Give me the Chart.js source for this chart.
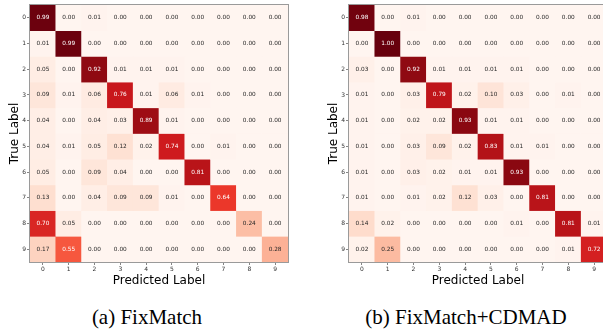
<!DOCTYPE html>
<html>
<head>
<meta charset="utf-8">
<script src="https://cdn.jsdelivr.net/npm/chart.js@4/dist/chart.umd.min.js"></script>
<style>
  html, body { margin: 0; padding: 0; background: #fff; }
  #wrap { position: relative; width: 603px; height: 331px; overflow: hidden; background: #fff; }
  .box { position: absolute; top: 0; width: 300px; height: 300px; }
  .cap { position: absolute; top: 307px; font-family: 'Liberation Serif', 'Times New Roman', serif; font-size: 21px; line-height: 21px; text-align: center; color: #000; white-space: nowrap; }
</style>
</head>
<body>
<div id="wrap">
  <div class="box" style="left:0px"><canvas id="c1" width="300" height="300"></canvas></div>
  <div class="box" style="left:319px"><canvas id="c2" width="300" height="300"></canvas></div>
  <div class="cap" style="left:0px;width:294px">(a) FixMatch</div>
  <div class="cap" style="left:320px;width:292px">(b) FixMatch+CDMAD</div>
</div>
<script>
const classLabels = ['0','1','2','3','4','5','6','7','8','9'];
const xTitle = 'Predicted Label';
const yTitle = 'True Label';

const fixmatch = [
  [0.99, 0.00, 0.01, 0.00, 0.00, 0.00, 0.00, 0.00, 0.00, 0.00],
  [0.01, 0.99, 0.00, 0.00, 0.00, 0.00, 0.00, 0.00, 0.00, 0.00],
  [0.05, 0.00, 0.92, 0.01, 0.01, 0.01, 0.00, 0.00, 0.00, 0.00],
  [0.09, 0.01, 0.06, 0.76, 0.01, 0.06, 0.01, 0.00, 0.00, 0.00],
  [0.04, 0.00, 0.04, 0.03, 0.89, 0.01, 0.00, 0.00, 0.00, 0.00],
  [0.04, 0.01, 0.05, 0.12, 0.02, 0.74, 0.00, 0.01, 0.00, 0.00],
  [0.05, 0.00, 0.09, 0.04, 0.00, 0.00, 0.81, 0.00, 0.00, 0.00],
  [0.13, 0.00, 0.04, 0.09, 0.09, 0.01, 0.00, 0.64, 0.00, 0.00],
  [0.70, 0.05, 0.00, 0.00, 0.00, 0.00, 0.00, 0.00, 0.24, 0.00],
  [0.17, 0.55, 0.00, 0.00, 0.00, 0.00, 0.00, 0.00, 0.00, 0.28]
];

const fixmatchCdmad = [
  [0.98, 0.00, 0.01, 0.00, 0.00, 0.00, 0.00, 0.00, 0.00, 0.00],
  [0.00, 1.00, 0.00, 0.00, 0.00, 0.00, 0.00, 0.00, 0.00, 0.00],
  [0.03, 0.00, 0.92, 0.01, 0.01, 0.01, 0.01, 0.00, 0.00, 0.00],
  [0.01, 0.00, 0.03, 0.79, 0.02, 0.10, 0.03, 0.00, 0.01, 0.00],
  [0.01, 0.00, 0.02, 0.02, 0.93, 0.01, 0.01, 0.00, 0.00, 0.00],
  [0.01, 0.00, 0.03, 0.09, 0.02, 0.83, 0.01, 0.01, 0.00, 0.00],
  [0.01, 0.00, 0.03, 0.02, 0.01, 0.01, 0.93, 0.00, 0.00, 0.00],
  [0.01, 0.00, 0.01, 0.02, 0.12, 0.03, 0.00, 0.81, 0.00, 0.00],
  [0.14, 0.02, 0.00, 0.00, 0.00, 0.00, 0.01, 0.00, 0.81, 0.01],
  [0.02, 0.25, 0.00, 0.00, 0.00, 0.00, 0.00, 0.00, 0.01, 0.72]
];

// matplotlib "Reds" colormap stops
const redsStops = ['#fff5f0','#fee0d2','#fcbba1','#fc9272','#fb6a4a','#ef3b2c','#cb181d','#a50f15','#67000d'];
function hexToRgb(h){ return [parseInt(h.slice(1,3),16), parseInt(h.slice(3,5),16), parseInt(h.slice(5,7),16)]; }
function reds(v){
  v = Math.max(0, Math.min(1, v));
  const p = v * (redsStops.length - 1);
  const i = Math.min(Math.floor(p), redsStops.length - 2);
  const t = p - i;
  const a = hexToRgb(redsStops[i]), b = hexToRgb(redsStops[i+1]);
  const c = a.map((x, k) => Math.round(x + (b[k] - x) * t));
  return 'rgb(' + c.join(',') + ')';
}

const annotatePlugin = {
  id: 'annotate',
  afterDatasetsDraw(chart) {
    const ctx = chart.ctx;
    const mat = chart.options.plugins.annotate.matrix;
    ctx.save();
    ctx.font = '5.8px "DejaVu Sans"';
    ctx.textAlign = 'center';
    ctx.textBaseline = 'middle';
    chart.data.datasets.forEach((ds, r) => {
      const meta = chart.getDatasetMeta(r);
      meta.data.forEach((el, c) => {
        const v = mat[r][c];
        const y = (el.y + el.base) / 2;
        ctx.fillStyle = v > 0.5 ? '#ffffff' : '#262626';
        ctx.fillText(v.toFixed(2), el.x, y);
      });
    });
    ctx.restore();
  },
  afterDraw(chart) {
    const a = chart.chartArea;
    const ctx = chart.ctx;
    ctx.save();
    ctx.strokeStyle = '#9a9a9a';
    ctx.lineWidth = 1;
    ctx.strokeRect(Math.round(a.left) - 0.5, Math.round(a.top) - 0.5, Math.round(a.right - a.left) + 1, Math.round(a.bottom - a.top) + 1);
    ctx.restore();
  }
};

function makeChart(id, mat) {
  const datasets = mat.map((row, r) => ({
    label: classLabels[r],
    data: row.map(() => [r - 0.5, r + 0.5]),
    backgroundColor: row.map(v => reds(v)),
    borderWidth: 0,
    barPercentage: 1,
    categoryPercentage: 1,
    grouped: false
  }));
  return new Chart(document.getElementById(id), {
    type: 'bar',
    data: { labels: classLabels, datasets },
    plugins: [annotatePlugin],
    options: {
      responsive: false,
      animation: false,
      devicePixelRatio: 1,
      layout: { padding: { top: 5, right: 12, left: 0, bottom: 0 } },
      plugins: {
        legend: { display: false },
        tooltip: { enabled: false },
        annotate: { matrix: mat }
      },
      scales: {
        x: {
          type: 'category',
          offset: true,
          grid: { display: true, offset: false, drawOnChartArea: false, drawTicks: true, tickLength: 3, tickColor: '#666', tickWidth: 0.8 },
          border: { display: false },
          ticks: { font: { family: 'DejaVu Sans', size: 6 }, color: '#333', padding: 1, maxRotation: 0, autoSkip: false },
          title: { display: true, text: xTitle, font: { family: 'DejaVu Sans', size: 12 }, color: '#000', padding: { top: 0, bottom: 12 } },
          afterFit(scale) { scale.height = 38; }
        },
        y: {
          type: 'linear',
          reverse: true,
          min: -0.5,
          max: 9.5,
          afterBuildTicks(scale) { scale.ticks = classLabels.map((_, i) => ({ value: i })); },
          grid: { display: true, drawOnChartArea: false, drawTicks: true, tickLength: 3, tickColor: '#666', tickWidth: 0.8 },
          border: { display: false },
          ticks: { font: { family: 'DejaVu Sans', size: 6 }, color: '#333', padding: 1, callback: v => classLabels[v] },
          title: { display: true, text: yTitle, font: { family: 'DejaVu Sans', size: 12 }, color: '#000', padding: { top: 8, bottom: 0 } },
          afterFit(scale) { scale.width = 30; }
        }
      }
    }
  });
}

makeChart('c1', fixmatch);
makeChart('c2', fixmatchCdmad);
</script>
</body>
</html>
